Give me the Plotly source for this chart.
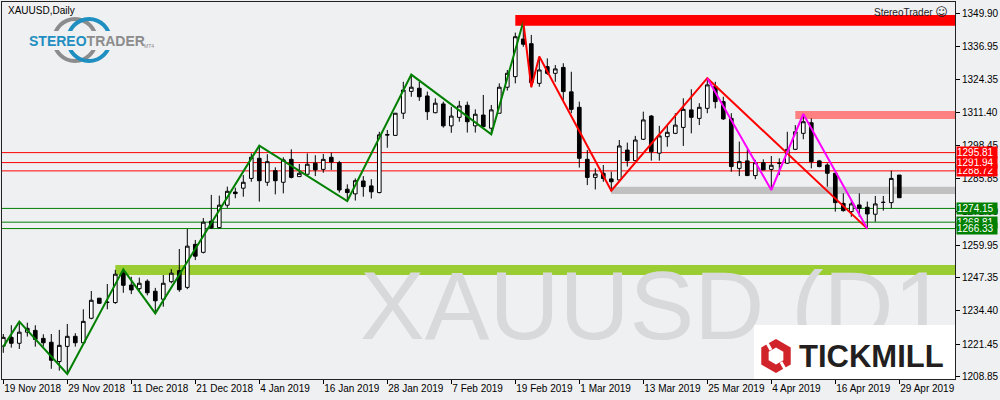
import plotly.graph_objects as go

# ---------------- data ----------------
date_labels = ["19 Nov 2018", "29 Nov 2018", "11 Dec 2018", "21 Dec 2018", "4 Jan 2019",
               "16 Jan 2019", "28 Jan 2019", "7 Feb 2019", "19 Feb 2019", "1 Mar 2019",
               "13 Mar 2019", "25 Mar 2019", "4 Apr 2019", "16 Apr 2019", "29 Apr 2019"]
date_idx = [0, 8, 16, 24, 32, 40, 48, 56, 64, 72, 80, 88, 96, 104, 112]

opens = [
    1220.7, 1224.1, 1221.8, 1226.1, 1226.8, 1223.7, 1222.2, 1214.7, 1220.6, 1224.5,
    1222.0, 1231.5, 1239.3, 1237.7, 1237.6, 1249.1, 1244.4, 1243.0, 1245.9, 1242.0,
    1238.9, 1245.7, 1250.0, 1243.5, 1260.2, 1257.1, 1269.2, 1266.7, 1275.4, 1280.5,
    1282.0, 1285.8, 1293.6, 1284.3, 1288.8, 1284.3, 1293.2, 1286.5, 1287.4, 1291.7,
    1289.3, 1294.0, 1291.9, 1281.6, 1279.8, 1284.8, 1282.9, 1280.3, 1302.6, 1302.5,
    1311.1, 1319.6, 1320.8, 1317.8, 1311.3, 1314.7, 1306.2, 1309.5, 1314.2, 1306.2,
    1310.4, 1305.3, 1311.1, 1321.2, 1325.3, 1339.9, 1338.1, 1322.7, 1329.2, 1326.6,
    1328.9, 1319.4, 1313.4, 1293.2, 1286.2, 1287.8, 1285.6, 1285.2, 1296.8, 1292.7,
    1301.0, 1310.0, 1295.6, 1302.0, 1303.3, 1305.6, 1312.4, 1309.1, 1313.0, 1321.4,
    1315.6, 1309.1, 1289.7, 1292.6, 1286.9, 1291.9, 1289.3, 1291.7, 1291.7, 1297.1,
    1303.3, 1307.4, 1292.6, 1291.0, 1287.8, 1276.1, 1272.9, 1275.5, 1274.6, 1271.9,
    1276.5, 1276.4, 1287.1]
highs = [
    1225.4, 1228.8, 1230.2, 1229.8, 1228.8, 1225.3, 1225.4, 1227.0, 1229.3, 1225.7,
    1235.0, 1242.1, 1239.4, 1244.8, 1250.3, 1250.5, 1247.6, 1247.3, 1246.6, 1243.3,
    1248.3, 1250.6, 1258.4, 1266.2, 1261.9, 1270.4, 1279.4, 1279.1, 1282.6, 1282.2,
    1287.1, 1295.5, 1298.5, 1295.2, 1290.1, 1294.0, 1297.1, 1291.4, 1295.5, 1294.8,
    1295.3, 1295.8, 1292.6, 1283.5, 1285.8, 1286.7, 1285.5, 1303.9, 1304.6, 1311.2,
    1323.3, 1326.1, 1323.3, 1319.5, 1316.9, 1315.6, 1313.6, 1315.9, 1315.6, 1312.6,
    1318.2, 1314.3, 1322.7, 1327.9, 1342.4, 1346.6, 1341.5, 1333.1, 1332.4, 1329.8,
    1330.5, 1327.2, 1315.6, 1296.8, 1289.7, 1291.0, 1288.4, 1300.7, 1299.7, 1302.3,
    1311.7, 1310.4, 1306.2, 1306.5, 1311.1, 1316.9, 1320.4, 1315.0, 1324.7, 1323.3,
    1317.5, 1311.1, 1300.1, 1297.1, 1293.0, 1293.2, 1294.5, 1293.6, 1303.9, 1306.5,
    1310.8, 1309.1, 1293.0, 1291.7, 1288.0, 1280.0, 1277.4, 1280.0, 1276.8, 1279.0,
    1279.0, 1288.8, 1287.1]
lows = [
    1218.1, 1220.1, 1219.6, 1224.4, 1220.5, 1220.5, 1211.9, 1211.2, 1209.9, 1220.5,
    1221.8, 1231.1, 1237.1, 1235.0, 1237.1, 1241.4, 1240.9, 1241.8, 1240.4, 1233.4,
    1236.0, 1245.1, 1241.8, 1242.8, 1254.1, 1256.7, 1266.2, 1266.4, 1274.4, 1278.1,
    1278.7, 1284.5, 1276.8, 1282.9, 1279.6, 1280.0, 1285.8, 1286.5, 1287.4, 1286.7,
    1288.0, 1289.1, 1280.3, 1277.0, 1277.2, 1278.7, 1278.0, 1280.0, 1297.7, 1302.3,
    1308.9, 1317.5, 1315.9, 1308.5, 1311.1, 1305.5, 1303.5, 1307.8, 1303.6, 1303.6,
    1305.9, 1302.9, 1311.1, 1319.9, 1322.7, 1336.9, 1321.2, 1321.4, 1326.0, 1323.3,
    1316.2, 1311.1, 1290.0, 1283.2, 1281.5, 1284.5, 1281.0, 1284.5, 1290.4, 1292.3,
    1300.7, 1292.7, 1292.7, 1298.1, 1303.0, 1298.4, 1303.3, 1306.5, 1311.1, 1313.0,
    1308.5, 1288.4, 1286.7, 1286.7, 1285.5, 1289.1, 1281.3, 1287.1, 1291.4, 1296.8,
    1301.0, 1289.7, 1290.1, 1282.6, 1272.9, 1272.9, 1270.9, 1270.9, 1266.3, 1269.0,
    1273.3, 1274.2, 1278.3]
closes = [
    1224.1, 1221.8, 1226.1, 1227.6, 1223.3, 1222.0, 1215.2, 1221.0, 1224.5, 1222.0,
    1230.3, 1238.5, 1237.3, 1237.7, 1248.6, 1244.3, 1242.5, 1245.1, 1241.4, 1238.3,
    1245.1, 1249.0, 1242.6, 1259.5, 1255.6, 1268.8, 1266.6, 1275.4, 1280.8, 1279.9,
    1284.3, 1294.0, 1284.9, 1292.3, 1284.9, 1293.0, 1286.2, 1287.8, 1291.3, 1289.1,
    1293.2, 1292.2, 1281.3, 1280.3, 1284.9, 1282.6, 1280.6, 1302.7, 1302.8, 1311.1,
    1320.1, 1321.2, 1317.5, 1311.7, 1315.0, 1306.2, 1310.0, 1313.9, 1307.8, 1310.7,
    1305.9, 1312.4, 1321.2, 1326.6, 1340.8, 1337.9, 1323.0, 1327.9, 1326.6, 1328.3,
    1319.5, 1312.6, 1293.6, 1286.2, 1287.5, 1285.8, 1284.5, 1298.4, 1292.7, 1300.7,
    1308.5, 1296.2, 1302.3, 1303.7, 1306.5, 1312.6, 1309.5, 1313.4, 1322.1, 1315.6,
    1308.9, 1290.4, 1292.3, 1286.9, 1291.9, 1289.1, 1290.9, 1291.7, 1297.1, 1303.9,
    1307.8, 1292.3, 1290.4, 1287.8, 1276.4, 1273.3, 1275.9, 1274.2, 1272.0, 1275.9,
    1276.5, 1285.8, 1278.3]
bars = list(range(len(opens)))

y_ticks = [1349.90, 1336.95, 1324.35, 1311.40, 1298.45, 1285.85, 1272.90,
           1259.95, 1247.35, 1234.40, 1221.45, 1208.85]

red_levels = [1288.72, 1291.94, 1295.81]
green_levels = [1274.15, 1268.81, 1266.33]

# zones: start bar, low, high, colour
zone_start = [64, 99, 76, 14]
zone_low = [1345.1, 1308.9, 1279.7, 1248.3]
zone_high = [1349.2, 1312.0, 1282.6, 1252.2]
zone_color = ["#FF0000", "#FF8080", "#C0C0C0", "#9ACD32"]

zz_green_x = [0, 2, 8, 15, 19, 32, 43, 51, 61, 65]
zz_green_y = [1220.5, 1230.2, 1209.9, 1250.5, 1233.4, 1298.5, 1277.0, 1326.1, 1302.9, 1346.6]
zz_red_x = [65, 66, 67, 76, 88, 108]
zz_red_y = [1346.6, 1321.2, 1333.1, 1281.0, 1324.7, 1266.3]
zz_mag_x = [88, 96, 100, 108]
zz_mag_y = [1324.7, 1281.3, 1310.8, 1266.3]

# ---------------- layout helpers ----------------
BG = "#EFF0F2"
PL, PR, PT, PB = 2, 955, 2, 379   # plot area in pixels


def pxx(x):
    return (x - PL) / (PR - PL)


def pxy(y):
    return (PB - y) / (PB - PT)


FONT = "Liberation Sans, Arial, DejaVu Sans, sans-serif"

fig = go.Figure()

# watermark (trace, so it is clipped by the plot area and sits under the candles)
fig.add_trace(go.Scatter(
    x=[44.6], y=[1233.0], mode="text", text=["XAUUSD (D1"],
    textposition="middle right", cliponaxis=True, hoverinfo="skip",
    textfont=dict(family=FONT, size=97, color="#D8D9DB")))

fig.add_trace(go.Candlestick(
    x=bars, open=opens, high=highs, low=lows, close=closes,
    increasing=dict(line=dict(color="#000000", width=1), fillcolor="#FFFFFF"),
    decreasing=dict(line=dict(color="#000000", width=1), fillcolor="#000000"),
    whiskerwidth=0, hoverinfo="skip"))

fig.add_trace(go.Scatter(x=zz_green_x, y=zz_green_y, mode="lines",
                         line=dict(color="#008000", width=2), hoverinfo="skip"))
fig.add_trace(go.Scatter(x=zz_red_x, y=zz_red_y, mode="lines",
                         line=dict(color="#FF0000", width=2), hoverinfo="skip"))
fig.add_trace(go.Scatter(x=zz_mag_x, y=zz_mag_y, mode="lines",
                         line=dict(color="#FF00FF", width=2), hoverinfo="skip"))

shapes = []
for s, lo, hi, c in zip(zone_start, zone_low, zone_high, zone_color):
    shapes.append(dict(type="rect", xref="x", yref="y", x0=s, x1=200, y0=lo, y1=hi,
                       fillcolor=c, line=dict(width=0), layer="below"))
for lv in red_levels:
    shapes.append(dict(type="line", xref="paper", yref="y", x0=0, x1=1, y0=lv, y1=lv,
                       line=dict(color="#FF0000", width=1), layer="below"))
for lv in green_levels:
    shapes.append(dict(type="line", xref="paper", yref="y", x0=0, x1=1, y0=lv, y1=lv,
                       line=dict(color="#008000", width=1), layer="below"))

# StereoTrader logo rings
for cx, col in [(75, "#8C8C8C"), (89, "#1E8FC0")]:
    shapes.append(dict(type="circle", xref="paper", yref="paper",
                       x0=pxx(cx - 21), x1=pxx(cx + 21), y0=pxy(40 + 21), y1=pxy(40 - 21),
                       line=dict(color=col, width=4), layer="above"))
shapes.append(dict(type="rect", xref="paper", yref="paper",
                   x0=pxx(24), x1=pxx(142), y0=pxy(50), y1=pxy(31),
                   fillcolor=BG, line=dict(width=0), layer="above"))

# Tickmill box
shapes.append(dict(type="rect", xref="paper", yref="paper",
                   x0=pxx(754), x1=pxx(955), y0=pxy(379), y1=pxy(325),
                   fillcolor="#FFFFFF", line=dict(width=0), layer="above"))


def hexpath(cx, cy, r):
    import math
    pts = []
    for k in range(6):
        a = math.radians(90 + 60 * k)
        pts.append((pxx(cx + r * math.cos(a)), pxy(cy - r * math.sin(a))))
    return "M " + " L ".join(f"{x:.5f},{y:.5f}" for x, y in pts) + " Z"


shapes.append(dict(type="path", xref="paper", yref="paper", path=hexpath(776, 356, 17),
                   fillcolor="#D1232A", line=dict(width=0), layer="above"))
shapes.append(dict(type="path", xref="paper", yref="paper", path=hexpath(776, 356, 8.5),
                   fillcolor="#FFFFFF", line=dict(width=0), layer="above"))
shapes.append(dict(type="line", xref="paper", yref="paper",
                   x0=pxx(766), y0=pxy(341), x1=pxx(771), y1=pxy(350),
                   line=dict(color="#FFFFFF", width=3), layer="above"))
shapes.append(dict(type="line", xref="paper", yref="paper",
                   x0=pxx(781), y0=pxy(362), x1=pxx(786), y1=pxy(371),
                   line=dict(color="#FFFFFF", width=3), layer="above"))

annotations = []
# price labels
for lv in red_levels:
    annotations.append(dict(xref="paper", yref="y", x=1, y=lv, xanchor="left", yanchor="middle",
                            text=f"{lv:.2f}", showarrow=False, bgcolor="#FF0000",
                            font=dict(family=FONT, size=10, color="#FFFFFF"),
                            width=40, height=11, align="left", borderpad=0, xshift=1))
for lv in green_levels:
    annotations.append(dict(xref="paper", yref="y", x=1, y=lv, xanchor="left", yanchor="middle",
                            text=f"{lv:.2f}", showarrow=False, bgcolor="#008000",
                            font=dict(family=FONT, size=10, color="#FFFFFF"),
                            width=40, height=11, align="left", borderpad=0, xshift=1))

annotations.append(dict(xref="paper", yref="paper", x=pxx(6), y=pxy(11), xanchor="left",
                        yanchor="middle", showarrow=False, text="XAUUSD,Daily",
                        font=dict(family=FONT, size=10, color="#000000")))
annotations.append(dict(xref="paper", yref="paper", x=pxx(950), y=pxy(12), xanchor="right",
                        yanchor="middle", showarrow=False,
                        text='StereoTrader <span style="font-family:DejaVu Sans;font-size:12px">\u263A</span>',
                        font=dict(family=FONT, size=10, color="#222222")))
annotations.append(dict(xref="paper", yref="paper", x=pxx(27), y=pxy(41), xanchor="left",
                        yanchor="middle", showarrow=False,
                        text='<b><span style="color:#1E8FC0">STEREO</span>'
                             '<span style="color:#8C8C8C">TRADER</span></b>',
                        font=dict(family=FONT, size=14)))
annotations.append(dict(xref="paper", yref="paper", x=pxx(142), y=pxy(46), xanchor="left",
                        yanchor="middle", showarrow=False, text="MT4",
                        font=dict(family=FONT, size=5, color="#8C8C8C")))
annotations.append(dict(xref="paper", yref="paper", x=pxx(797), y=pxy(356), xanchor="left",
                        yanchor="middle", showarrow=False, text="<b>TICKMILL</b>",
                        font=dict(family=FONT, size=31, color="#231F20")))

fig.update_layout(
    width=1000, height=400,
    margin=dict(l=PL, r=1000 - PR, t=PT, b=400 - PB, autoexpand=False),
    paper_bgcolor=BG, plot_bgcolor=BG,
    showlegend=False, boxgap=0.35,
    shapes=shapes, annotations=annotations,
    xaxis=dict(range=[(PL - 3.3) / 8, (PR - 3.3) / 8], tickvals=date_idx, ticktext=date_labels,
               ticks="outside", ticklen=4, tickcolor="#000000", showgrid=False, zeroline=False,
               showline=True, linecolor="#222222", linewidth=1, mirror=True,
               rangeslider=dict(visible=False), ticklabelposition="outside right",
               tickangle=0, automargin=False,
               tickfont=dict(family=FONT, size=10, color="#000000")),
    yaxis=dict(range=[1207.93, 1354.28], side="right", tickvals=y_ticks,
               ticktext=[f"{v:.2f}" for v in y_ticks], automargin=False,
               ticks="outside", ticklen=4, tickcolor="#000000", showgrid=False, zeroline=False,
               showline=True, linecolor="#222222", linewidth=1, mirror=True,
               tickfont=dict(family=FONT, size=10, color="#000000")),
)

fig.write_html("out.html", config={"displayModeBar": False},
               post_script="document.body.style.margin='0';")
